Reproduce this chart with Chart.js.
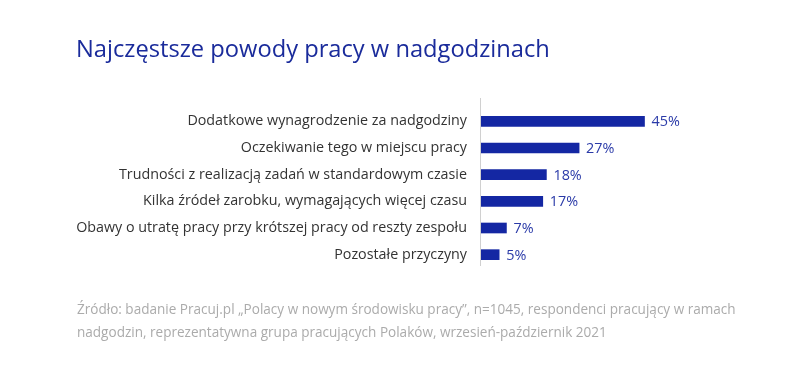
<!DOCTYPE html>
<html>
<head>
<meta charset="utf-8">
<script src="https://cdn.jsdelivr.net/npm/chart.js@4"></script>
<style>
  html, body { margin: 0; padding: 0; background: #fff; }
  #wrap { position: relative; width: 800px; height: 384px; font-family: "Open Sans", sans-serif; }
  #chartTitle { position: absolute; left: 76px; top: 33px; font-size: 23.7px; line-height: 30px; color: #1a2b9b; white-space: nowrap; }
  #source { position: absolute; left: 77px; top: 298px; font-size: 13.55px; line-height: 23px; color: #ababab; white-space: nowrap; }
  canvas { position: absolute; left: 0; top: 0; }
</style>
</head>
<body>
<div id="wrap">
  <canvas id="reasonsChart" width="800" height="384"></canvas>
  <div id="chartTitle">Najczęstsze powody pracy w nadgodzinach</div>
  <div id="source">Źródło: badanie Pracuj.pl „Polacy w nowym środowisku pracy”, n=1045, respondenci pracujący w ramach<br>nadgodzin, reprezentatywna grupa pracujących Polaków, wrzesień-październik 2021</div>
</div>
<script>
const reasons = [
  'Dodatkowe wynagrodzenie za nadgodziny',
  'Oczekiwanie tego w miejscu pracy',
  'Trudności z realizacją zadań w standardowym czasie',
  'Kilka źródeł zarobku, wymagających więcej czasu',
  'Obawy o utratę pracy przy krótszej pracy od reszty zespołu',
  'Pozostałe przyczyny'
];
const shares = [45, 27, 18, 17, 7, 5];

// value labels at the end of each bar
const valueLabels = {
  id: 'valueLabels',
  afterDatasetsDraw(chart) {
    const ctx = chart.ctx;
    ctx.save();
    ctx.font = '14.4px "Open Sans"';
    ctx.fillStyle = '#2a3aa8';
    ctx.textAlign = 'left';
    ctx.textBaseline = 'middle';
    chart.getDatasetMeta(0).data.forEach((bar, i) => {
      ctx.fillText(shares[i] + '%', bar.x + 7, bar.y + 1);
    });
    ctx.restore();
  }
};

// vertical axis line, a bit taller than the bars area
const axisLine = {
  id: 'axisLine',
  beforeDatasetsDraw(chart) {
    const { ctx, chartArea } = chart;
    ctx.save();
    ctx.strokeStyle = '#d0d0d0';
    ctx.lineWidth = 1;
    ctx.beginPath();
    ctx.moveTo(chartArea.left - 0.5, chartArea.top - 10);
    ctx.lineTo(chartArea.left - 0.5, chartArea.bottom - 2);
    ctx.stroke();
    ctx.restore();
  }
};

new Chart(document.getElementById('reasonsChart'), {
  type: 'bar',
  data: {
    labels: reasons,
    datasets: [{
      data: shares,
      backgroundColor: '#1427a3',
      barThickness: 10
    }]
  },
  options: {
    indexAxis: 'y',
    responsive: false,
    animation: false,
    layout: { padding: { top: 108, bottom: 116, left: 0, right: 101 } },
    plugins: { legend: { display: false }, tooltip: { enabled: false } },
    scales: {
      x: { display: false, min: 0, max: 60 },
      y: {
        afterFit(scale) { scale.width = 481; },
        grid: { display: false, drawTicks: false },
        border: { display: false },
        ticks: {
          padding: 14,
          color: '#333',
          font: { family: 'Open Sans', size: 14.3 }
        }
      }
    }
  },
  plugins: [valueLabels, axisLine]
});
</script>
</body>
</html>
